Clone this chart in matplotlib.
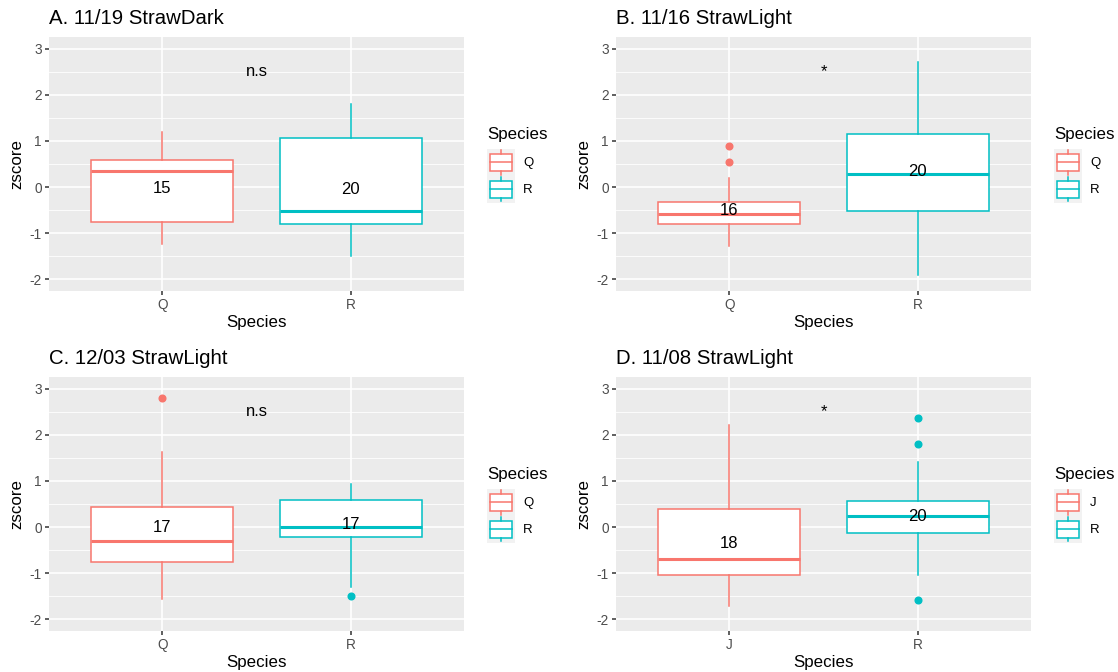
import matplotlib
matplotlib.use("Agg")
import matplotlib.pyplot as plt
from matplotlib.patches import Rectangle
from matplotlib.lines import Line2D
from matplotlib.legend_handler import HandlerBase
from matplotlib.ticker import MultipleLocator

plt.rcParams['font.family'] = ['Liberation Sans', 'DejaVu Sans']
plt.rcParams['axes.unicode_minus'] = False

# Data
titles = ["A. 11/19 StrawDark", "B. 11/16 StrawLight",
          "C. 12/03 StrawLight", "D. 11/08 StrawLight"]
groups = [["Q", "R"], ["Q", "R"], ["Q", "R"], ["J", "R"]]
q1 = [[-0.76, -0.79], [-0.80, -0.51], [-0.76, -0.21], [-1.03, -0.12]]
med = [[0.35, -0.52], [-0.58, 0.29], [-0.30, 0.01], [-0.70, 0.25]]
q3 = [[0.59, 1.06], [-0.33, 1.14], [0.43, 0.59], [0.39, 0.56]]
whislo = [[-1.23, -1.50], [-1.28, -1.91], [-1.55, -1.29], [-1.70, -1.03]]
whishi = [[1.19, 1.79], [0.20, 2.70], [1.62, 0.94], [2.21, 1.40]]
fliers = [[[], []], [[0.88, 0.535], []], [[2.80], [-1.49]], [[], [2.36, 1.81, -1.58]]]
counts = [[15, 20], [16, 20], [17, 17], [18, 20]]
count_y = [[-0.03, -0.06], [-0.51, 0.34], [-0.01, 0.06], [-0.36, 0.23]]
sig_text = ["n.s", "*", "n.s", "*"]
sig_y = [2.5, 2.5, 2.5, 2.5]

colors = ["#F8766D", "#00BFC4"]

W, H = 1118, 672
fig = plt.figure(figsize=(W / 100, H / 100), dpi=100)

# panel boxes in pixels: left, top, right, bottom
panel_px = [(49, 37, 464, 291), (616, 37, 1031, 291),
            (49, 377, 464, 631), (616, 377, 1031, 631)]


class BoxKey(HandlerBase):
    # ggplot-like boxplot legend key
    def create_artists(self, legend, orig_handle, xdescent, ydescent,
                       width, height, fontsize, trans):
        c = orig_handle.get_edgecolor()
        x0, y0 = -xdescent, -ydescent
        bg = Rectangle((x0, y0), width, height, fc="#F2F2F2", ec="none", transform=trans)
        box = Rectangle((x0 + width * 0.1, y0 + height * 0.19), width * 0.8, height * 0.62,
                        fc="white", ec=c, lw=1.1, transform=trans)
        cx = x0 + width / 2
        m = Line2D([x0 + width * 0.1, x0 + width * 0.9], [y0 + height / 2] * 2,
                   color=c, lw=1.1, transform=trans)
        wt = Line2D([cx, cx], [y0 + height * 0.81, y0 + height * 0.95], color=c, lw=1.1, transform=trans)
        wb = Line2D([cx, cx], [y0 + height * 0.05, y0 + height * 0.19], color=c, lw=1.1, transform=trans)
        return [bg, box, m, wt, wb]


for i in range(4):
    l, t, r, b = panel_px[i]
    ax = fig.add_axes([l / W, 1 - b / H, (r - l) / W, (b - t) / H])
    ax.set_facecolor("#EBEBEB")
    for s in ax.spines.values():
        s.set_visible(False)
    ax.set_xlim(0.4, 2.6)
    ax.set_ylim(-2.25, 3.25)
    ax.yaxis.set_major_locator(MultipleLocator(1))
    ax.yaxis.set_minor_locator(MultipleLocator(0.5))
    ax.grid(True, which="major", color="white", lw=1.2)
    ax.grid(True, which="minor", axis="y", color="white", lw=0.6)
    ax.set_axisbelow(True)
    ax.tick_params(which="major", length=3.2, width=1.1, color="#333333",
                   labelcolor="#4D4D4D", labelsize=9.8, pad=2)
    ax.tick_params(which="minor", length=0)

    handles = []
    for j in range(2):
        c = colors[j]
        st = dict(med=med[i][j], q1=q1[i][j], q3=q3[i][j],
                  whislo=whislo[i][j], whishi=whishi[i][j], fliers=fliers[i][j])
        ax.bxp([st], positions=[j + 1], widths=0.75, patch_artist=True,
               showcaps=False,
               boxprops=dict(facecolor="white", edgecolor=c, lw=1.1),
               medianprops=dict(color=c, lw=2.2, solid_capstyle="butt"),
               whiskerprops=dict(color=c, lw=1.1),
               flierprops=dict(marker="o", markerfacecolor=c, markeredgecolor=c,
                               markersize=4.8, linestyle="none"))
        ax.text(j + 1, count_y[i][j], str(counts[i][j]), ha="center", va="center",
                fontsize=12, color="black")
        handles.append(Rectangle((0, 0), 1, 1, fc="white", ec=c, label=groups[i][j]))

    ax.text(1.5, sig_y[i], sig_text[i], ha="center", va="center",
            fontsize=12, color="black")

    ax.set_xticks([1, 2])
    ax.set_xticklabels(groups[i])
    ax.set_xlabel("Species", fontsize=12.2, color="black")
    ax.xaxis.set_label_coords(0.5, -(315 - 291) / (b - t))
    ax.set_ylabel("zscore", fontsize=12.2, color="black")
    ax.yaxis.set_label_coords(-(49 - 24) / (r - l), 0.5)
    ax.set_title(titles[i], loc="left", fontsize=14.7, color="black", pad=9.3)

    # legend title and keys
    fig.text((r + 23.5) / W, 1 - (t + 102) / H, "Species", fontsize=12.2,
             ha="left", va="baseline", color="black")
    ax.legend(handles=handles, loc="upper left",
              bbox_to_anchor=((r + 23) / W, 1 - (t + 112) / H),
              bbox_transform=fig.transFigure, frameon=False,
              handler_map={Rectangle: BoxKey()},
              handlelength=2.1, handleheight=2.76, labelspacing=0.0,
              handletextpad=0.65, borderpad=0, borderaxespad=0,
              fontsize=9.5)

fig.savefig("out.png", dpi=100)
